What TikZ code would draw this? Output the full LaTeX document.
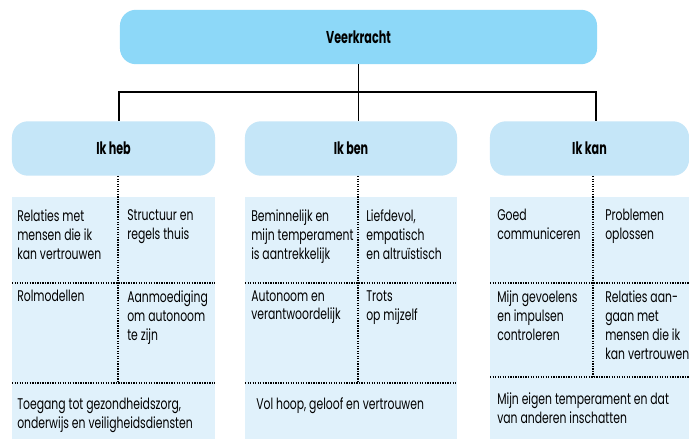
\documentclass[tikz,border=0pt]{standalone}
\usepackage{fontspec}
\setmainfont{Poppins}[FakeStretch=0.70]
\newfontfamily\kopfont{Poppins}[FakeStretch=0.65]
\usetikzlibrary{positioning}
\definecolor{veerblue}{RGB}{141,216,248}
\definecolor{ikblue}{RGB}{197,230,248}
\definecolor{celblue}{RGB}{224,241,251}

\begin{document}
\begin{tikzpicture}[x=0.025cm, y=-0.025cm,
    kop/.style={fill=#1, rounded corners=0.4cm, minimum height=1.36cm, inner sep=0pt,
      font=\kopfont\bfseries\fontsize{12.2}{14}\selectfont},
    cel/.style={anchor=north west, inner sep=0pt, align=left,
      font=\fontsize{11}{13.5}\selectfont},
    lijn/.style={line width=1.4pt},
    stip/.style={line width=1pt, dash pattern=on 0.9pt off 0.9pt}
  ]
  \useasboundingbox[fill=white] (0,0) rectangle (689,439);

  \fill[celblue] (12,197) rectangle (215,439);
  \fill[celblue] (245,197) rectangle (457,439);
  \fill[celblue] (490,197) rectangle (689,439);

  \node[kop=veerblue, minimum width=11.925cm] (veer) at (358.5,37) {Veerkracht};
  \node[kop=ikblue, minimum width=5.075cm] (heb) at (113.5,148.5) {Ik heb};
  \node[kop=ikblue, minimum width=5.3cm] (ben) at (351,148.5) {Ik ben};
  \node[kop=ikblue, minimum width=4.975cm] (kan) at (589.5,148.5) {Ik kan};

  \coordinate (split) at (358.5,92);
  \coordinate (hebin) at (119,121);
  \coordinate (benin) at (358.5,121);
  \coordinate (kanin) at (596,121);
  \draw[lijn] (veer) -- (split);
  \draw[lijn] (split) -- (benin);
  \draw[lijn] (hebin) |- (split) -| (kanin);

  \coordinate (hebmid) at (118,383);
  \coordinate (benmid) at (358,383);
  \coordinate (kanmid) at (593,377);
  \draw[stip] (heb.south -| hebmid) -- (hebmid);
  \draw[stip] (ben.south -| benmid) -- (benmid);
  \draw[stip] (kan.south -| kanmid) -- (kanmid);
  \draw[stip] (12,283) -- (215,283);
  \draw[stip] (12,383) -- (215,383);
  \draw[stip] (245,283) -- (457,283);
  \draw[stip] (245,383) -- (457,383);
  \draw[stip] (490,283) -- (689,283);
  \draw[stip] (490,377) -- (689,377);

  \node[cel] (heb1) at (17,209) {Relaties met\\mensen die ik\\kan vertrouwen};
  \node[cel] (heb2) at (127,209) {Structuur en\\regels thuis};
  \node[cel] (heb3) at (17,290) {Rolmodellen};
  \node[cel] (heb4) at (127,290) {Aanmoediging\\om autonoom\\te zijn};
  \node[cel] (heb5) at (17,397) {Toegang tot gezondheidszorg,\\onderwijs en veiligheidsdiensten};

  \node[cel] (ben1) at (251,209) {Beminnelijk en\\mijn temperament\\is aantrekkelijk};
  \node[cel] (ben2) at (366,209) {Liefdevol,\\empatisch\\en altruïstisch};
  \node[cel] (ben3) at (251,290) {Autonoom en\\verantwoordelijk};
  \node[cel] (ben4) at (366,290) {Trots\\op mijzelf};
  \node[cel] (ben5) at (256,397) {Vol hoop, geloof en vertrouwen};

  \node[cel] (kan1) at (497,209) {Goed\\communiceren};
  \node[cel] (kan2) at (605,209) {Problemen\\oplossen};
  \node[cel] (kan3) at (497,290) {Mijn gevoelens\\en impulsen\\controleren};
  \node[cel] (kan4) at (605,290) {Relaties aan-\\gaan met\\mensen die ik\\kan vertrouwen};
  \node[cel] (kan5) at (497,392) {Mijn eigen temperament en dat\\van anderen inschatten};
\end{tikzpicture}
\end{document}
